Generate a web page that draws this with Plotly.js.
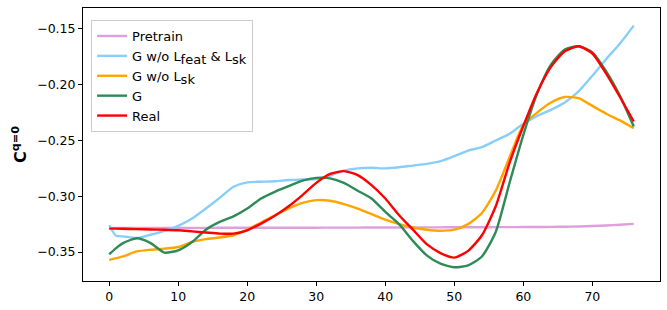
<!DOCTYPE html>
<html>
<head>
<meta charset="utf-8">
<script src="https://cdn.plot.ly/plotly-3.0.1.min.js"></script>
<style>html,body{margin:0;padding:0;background:#fff;}#chart{width:667px;height:310px;}</style>
</head>
<body>
<div id="chart"></div>
<script>
const xs = [0,1,2,4,6,8,10,12,14,16,18,20,22,24,26,28,30,32,34,36,38,40,42,44,46,48,50,52,54,56,58,60,62,64,66,68,70,72,74,76];

const pretrain = [-0.3285,-0.3285,-0.3285,-0.3285,-0.3285,-0.3285,-0.3284,-0.3284,-0.3284,-0.3283,-0.3283,-0.3283,-0.3283,-0.3282,-0.3282,-0.3282,-0.3282,-0.3281,-0.3281,-0.3281,-0.3280,-0.3280,-0.3280,-0.3279,-0.3279,-0.3279,-0.3278,-0.3278,-0.3278,-0.3277,-0.3277,-0.3276,-0.3276,-0.3275,-0.3273,-0.3271,-0.3267,-0.3262,-0.3256,-0.3248];

const gNoFeatSk = [-0.326,-0.3355,-0.336,-0.3375,-0.3345,-0.331,-0.3265,-0.320,-0.311,-0.3015,-0.2915,-0.2875,-0.287,-0.2865,-0.2855,-0.285,-0.2845,-0.2815,-0.277,-0.275,-0.2745,-0.275,-0.274,-0.2725,-0.271,-0.2685,-0.264,-0.259,-0.256,-0.250,-0.244,-0.235,-0.228,-0.2225,-0.216,-0.206,-0.192,-0.177,-0.163,-0.147];

const gNoSk = [-0.357,-0.3555,-0.354,-0.3495,-0.348,-0.347,-0.3455,-0.341,-0.3385,-0.337,-0.335,-0.330,-0.3235,-0.317,-0.311,-0.306,-0.3035,-0.304,-0.307,-0.311,-0.316,-0.321,-0.325,-0.328,-0.330,-0.331,-0.330,-0.325,-0.315,-0.295,-0.265,-0.236,-0.225,-0.216,-0.211,-0.212,-0.219,-0.226,-0.232,-0.239];

const gFull = [-0.352,-0.3465,-0.342,-0.3377,-0.342,-0.3505,-0.3485,-0.341,-0.330,-0.323,-0.318,-0.311,-0.302,-0.296,-0.291,-0.286,-0.2835,-0.284,-0.288,-0.295,-0.302,-0.314,-0.325,-0.340,-0.353,-0.3605,-0.3637,-0.362,-0.354,-0.332,-0.288,-0.245,-0.208,-0.182,-0.1685,-0.1655,-0.171,-0.188,-0.210,-0.2375];

const real = [-0.329,-0.329,-0.3292,-0.3295,-0.3298,-0.330,-0.3305,-0.3315,-0.3325,-0.3335,-0.3335,-0.3305,-0.3245,-0.3175,-0.309,-0.299,-0.288,-0.280,-0.2775,-0.281,-0.290,-0.302,-0.317,-0.330,-0.343,-0.351,-0.355,-0.349,-0.335,-0.309,-0.270,-0.237,-0.207,-0.184,-0.170,-0.1655,-0.172,-0.190,-0.211,-0.233];

const subStyle = 'font-size:13px';
const names = [
  'Pretrain',
  'G w/o L<sub><span style="' + subStyle + '">feat</span></sub> & L<sub><span style="' + subStyle + '">sk</span></sub>',
  'G w/o L<sub><span style="' + subStyle + '">sk</span></sub>',
  'G',
  'Real'
];
const series = [pretrain, gNoFeatSk, gNoSk, gFull, real];
const colors = ['#DDA0DD', '#87CEFA', '#FFA500', '#2E8B57', '#FF0000'];

const traces = series.map((ys, i) => ({
  x: xs, y: ys, name: names[i], type: 'scatter', mode: 'lines',
  line: {color: colors[i], width: 2.4, shape: 'spline', smoothing: 0.6}
}));

const font = {family: 'DejaVu Sans', size: 12.5, color: '#000'};

const layout = {
  width: 667, height: 310,
  margin: {l: 83, r: 7, t: 8, b: 29},
  paper_bgcolor: '#fff', plot_bgcolor: '#fff',
  font: font,
  showlegend: true,
  legend: {
    x: 0.014, y: 0.956, xanchor: 'left', yanchor: 'top',
    bgcolor: 'rgba(255,255,255,0.8)', bordercolor: '#cccccc', borderwidth: 1,
    font: {family: 'DejaVu Sans', size: 13, color: '#000'},
    tracegroupgap: 0, itemwidth: 30
  },
  xaxis: {
    range: [-3.8, 79.8], tickvals: [0,10,20,30,40,50,60,70],
    ticks: 'outside', ticklen: 4, tickcolor: '#000', tickwidth: 1,
    showline: true, linecolor: '#000', linewidth: 1, mirror: true,
    showgrid: false, zeroline: false, tickfont: font
  },
  yaxis: {
    range: [-0.376, -0.1312], tickvals: [-0.35,-0.30,-0.25,-0.20,-0.15],
    tickformat: '.2f',
    ticks: 'outside', ticklen: 4, tickcolor: '#000', tickwidth: 1,
    showline: true, linecolor: '#000', linewidth: 1, mirror: true,
    showgrid: false, zeroline: false, tickfont: font,
    title: {text: '<b>C</b><sup><b>q=0</b></sup>', font: {family: 'DejaVu Sans', size: 16, color: '#000'}, standoff: 6}
  }
};

Plotly.newPlot('chart', traces, layout, {displayModeBar: false, staticPlot: true});
</script>
</body>
</html>
